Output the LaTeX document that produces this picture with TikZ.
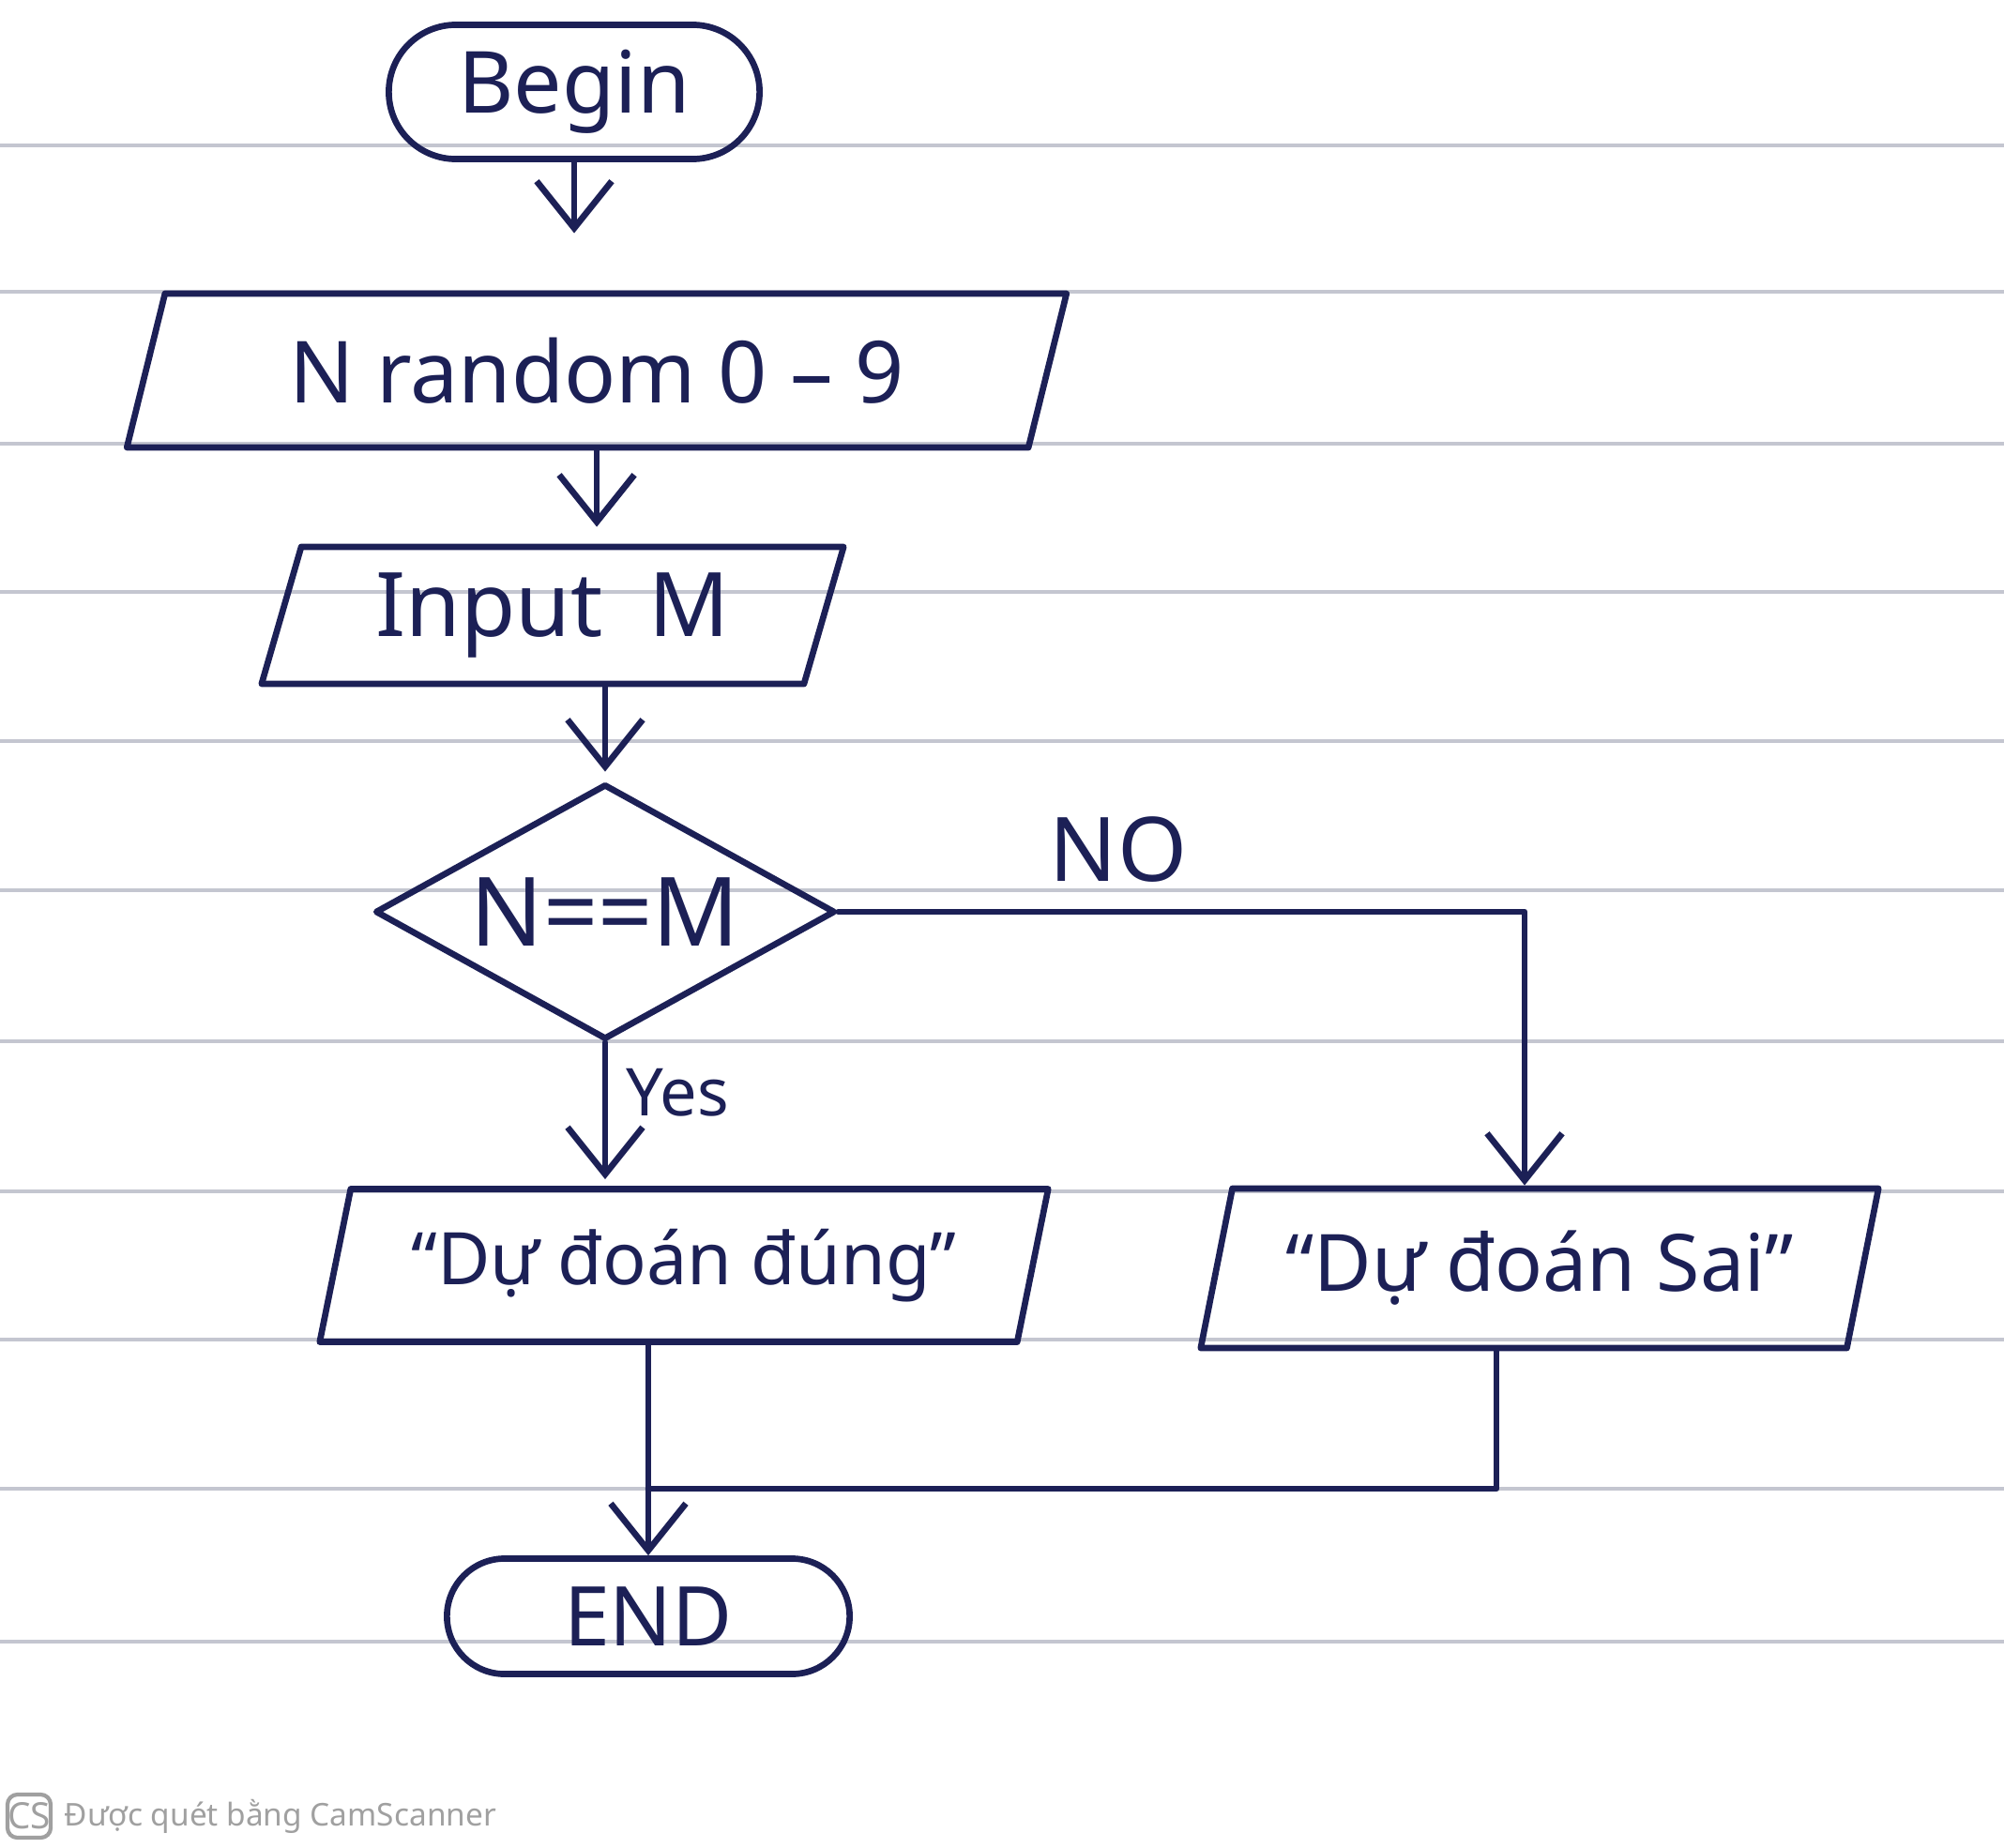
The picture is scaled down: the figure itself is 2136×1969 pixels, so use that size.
\documentclass[tikz,border=0pt]{standalone}
\usepackage{fontspec}
\setmainfont{Noto Sans}
\usetikzlibrary{shapes.geometric,shapes.misc,arrows.meta}
\definecolor{ink}{RGB}{28,32,86}
\definecolor{ruleline}{RGB}{196,198,208}
\definecolor{wm}{RGB}{160,160,160}
\begin{document}
\begin{tikzpicture}[x=0.01cm,y=-0.01cm,
  pen/.style={draw=ink,line width=1.9pt,line join=round,line cap=round},
  arr/.style={pen,-{Straight Barb[length=5mm,width=8mm]}},
  terminal/.style={rounded rectangle,pen,text=ink,inner sep=0pt,font=\fontsize{26}{30}\selectfont},
  io/.style={trapezium,trapezium stretches body,pen,text=ink,inner sep=0pt,font=\fontsize{26}{30}\selectfont},
  decision/.style={diamond,aspect=1.8,pen,text=ink,inner sep=0pt,font=\fontsize{29}{32}\selectfont},
  lbl/.style={text=ink,inner sep=0pt}]
\useasboundingbox (0,0) rectangle (2136,1969);
% ruled paper
\foreach \yy in {155,311,473,631,790,949,1110,1270,1428,1587,1750}
  \draw[ruleline,line width=1.1pt] (0,\yy) -- (2136,\yy);
% nodes
\node[terminal,minimum width=3.95cm,minimum height=1.43cm] (begin) at (612,98) {Begin};
\node[io,trapezium left angle=60,trapezium right angle=120,minimum width=10.01cm,minimum height=1.64cm] (nrand) at (636,395) {N random 0 – 9};
\node[io,trapezium left angle=65,trapezium right angle=115,minimum width=6.2cm,minimum height=1.46cm,font=\fontsize{27}{30}\selectfont] (input) at (589,656) {Input\ \ M};
\node[decision,minimum width=4.9cm,minimum height=2.72cm] (dec) at (645,972) {N==M};
\node[io,trapezium left angle=67,trapezium right angle=113,minimum width=7.76cm,minimum height=1.63cm,font=\fontsize{22}{26}\selectfont] (outL) at (729,1349) {“Dự đoán đúng”};
\node[io,trapezium left angle=67,trapezium right angle=113,minimum width=7.22cm,minimum height=1.70cm,font=\fontsize{24}{28}\selectfont] (outR) at (1641,1352) {“Dự đoán Sai”};
\node[terminal,minimum width=4.29cm,minimum height=1.23cm,font=\fontsize{25}{30}\selectfont] (endn) at (691,1723) {END};
% labels
\node[lbl,font=\fontsize{27}{30}\selectfont] (nolbl) at (1192,906) {NO};
\node[lbl,font=\fontsize{20}{24}\selectfont] (yeslbl) at (722,1165) {Yes};
% helper coordinates
\coordinate (nox) at (1625,0);
\coordinate (rdrop) at (1595,0);
\coordinate (join) at (691,1587);
% connectors
\draw[arr,shorten >=6.1mm] (begin.south) -- (begin.south |- nrand.north);
\draw[arr,shorten >=1.8mm] (nrand.south) -- (nrand.south |- input.north);
\draw[arr,shorten >=1mm] (input.south -| dec.north) -- (dec.north);
\draw[arr,shorten >=0.7mm] (dec.south) -- (dec.south |- outL.north);
\draw[arr] (dec.east) -- (dec.east -| nox) -- (nox |- outR.north);
\draw[arr] (outL.south -| endn.north) -- (endn.north);
\draw[pen] (outR.south -| rdrop) |- (join);
% watermark
\node[draw=wm,line width=1.2pt,rounded corners=3pt,text=wm,minimum size=0.46cm,inner sep=0pt,font=\bfseries\fontsize{11}{12}\selectfont] (cslogo) at (31,1936) {CS};
\node[anchor=west,text=wm,inner sep=0pt,font=\fontsize{9.5}{11}\selectfont] (wmtext) at (68,1936) {Được quét bằng CamScanner};
\end{tikzpicture}
\end{document}
